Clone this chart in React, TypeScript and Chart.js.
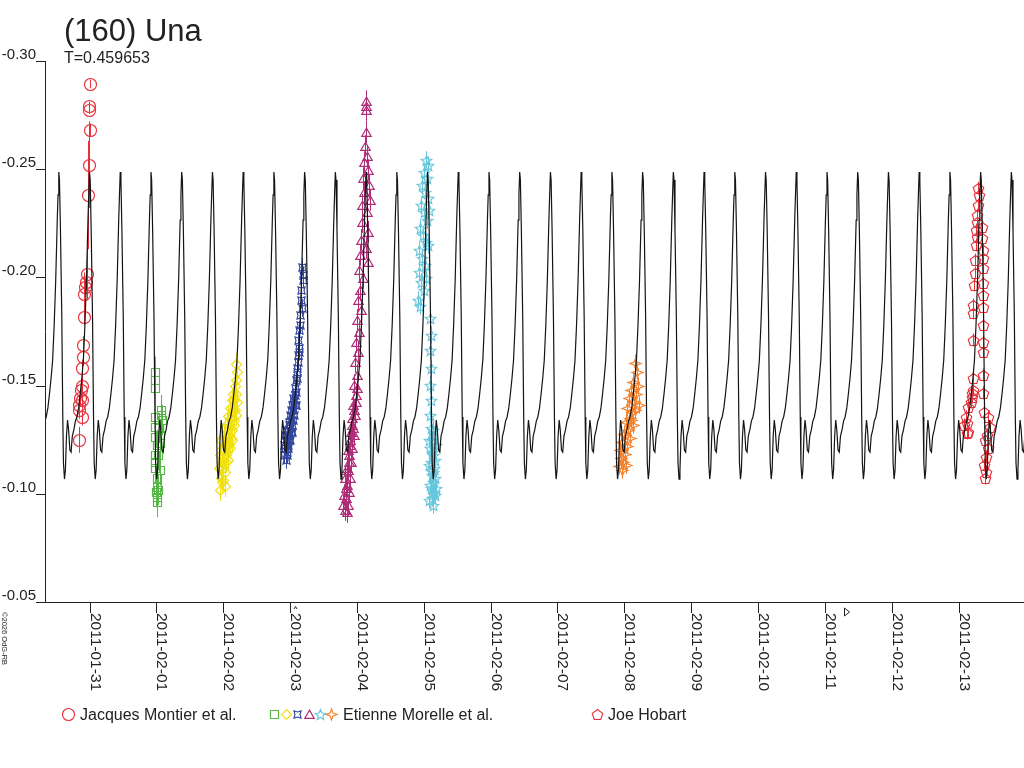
import { useEffect, useRef } from 'react'
import { Chart, registerables } from 'chart.js'

Chart.register(...registerables)

const FONT = '"Liberation Sans", Arial, sans-serif'
const INK = '#222222'

const title = '(160) Una'
const periodLabel = 'T=0.459653'
const copyright = '\u00a92026 OdG-RB'

// rotation period (days) and epoch of maximum, days after 2011-01-31 0h UT
const period = 0.459653
const epoch = 0

const dayMin = -0.666
const dayMax = 13.979
const magMin = -0.3
const magMax = -0.05

const tickDays = [0, 1, 2, 3, 4, 5, 6, 7, 8, 9, 10, 11, 12, 13]
const tickLabels = [
  '2011-01-31', '2011-02-01', '2011-02-02', '2011-02-03', '2011-02-04',
  '2011-02-05', '2011-02-06', '2011-02-07', '2011-02-08', '2011-02-09',
  '2011-02-10', '2011-02-11', '2011-02-12', '2011-02-13',
]
const magTicks = [-0.3, -0.25, -0.2, -0.15, -0.1, -0.05]
const magTickLabels = ['-0.30', '-0.25', '-0.20', '-0.15', '-0.10', '-0.05']
const eventDays = [3.08, 11.32]

// model lightcurve, one rotation
const modelPhase = [
  0.0, 0.022, 0.054, 0.098, 0.13, 0.152, 0.185, 0.215, 0.25, 0.285, 0.32, 0.36, 0.4,
  0.44, 0.49, 0.54, 0.59, 0.645, 0.7, 0.75, 0.8, 0.85, 0.9, 0.95, 0.975,
]
const modelMag = [
  -0.2487, -0.245, -0.2219, -0.1817, -0.1355, -0.1142, -0.1068, -0.111, -0.1267, -0.1341,
  -0.1295, -0.1202, -0.1193, -0.1267, -0.1295, -0.1336, -0.1355, -0.1397, -0.1466, -0.1535,
  -0.1618, -0.178, -0.1988, -0.2265, -0.2381,
]

// [day, mag, error]
const montier = [
  [0.012, -0.2894, 0.002], [-0.007, -0.2792, 0.002], [-0.005, -0.2774, 0.002],
  [0.012, -0.2681, 0.003], [-0.012, -0.2521, 0.02], [-0.018, -0.2381, 0.025],
  [-0.042, -0.2016, 0.012], [-0.052, -0.198, 0.004], [-0.067, -0.1957, 0.004],
  [-0.082, -0.1923, 0.01], [-0.082, -0.1818, 0.004], [-0.093, -0.1688, 0.004],
  [-0.102, -0.1631, 0.004], [-0.108, -0.158, 0.004], [-0.117, -0.1498, 0.004],
  [-0.132, -0.148, 0.004], [-0.142, -0.1443, 0.004], [-0.112, -0.1434, 0.004],
  [-0.153, -0.141, 0.004], [-0.157, -0.1387, 0.004], [-0.117, -0.1356, 0.004],
  [-0.153, -0.1249, 0.006],
]

// [day, mag]
const morelleA = [
  [0.98, -0.1564], [0.98, -0.1526], [0.98, -0.1489], [1.065, -0.1387], [1.08, -0.1341],
  [0.98, -0.1355], [0.98, -0.1309], [1.055, -0.1272], [0.98, -0.1262], [1.055, -0.1235],
  [0.98, -0.1179], [0.98, -0.1119], [1.055, -0.111], [1.005, -0.1073], [1.005, -0.1031],
  [1.025, -0.1018], [1.005, -0.0985], [1.005, -0.0962], [0.98, -0.1147], [1.04, -0.1304],
  [1.07, -0.1364], [1.01, -0.1226], [1.025, -0.1179], [0.995, -0.1008],
]
const morelleB = [
  [1.937, -0.1119], [1.952, -0.1179], [1.96, -0.1073], [1.967, -0.1249], [1.975, -0.1147],
  [1.982, -0.1055], [1.99, -0.1212], [1.997, -0.1119], [2.005, -0.1267], [2.012, -0.1175],
  [2.02, -0.1036], [2.027, -0.123], [2.034, -0.1304], [2.042, -0.1147], [2.049, -0.1221],
  [2.057, -0.1323], [2.064, -0.1193], [2.072, -0.1267], [2.079, -0.136], [2.087, -0.123],
  [2.094, -0.1313], [2.102, -0.1397], [2.109, -0.1258], [2.117, -0.135], [2.124, -0.1434],
  [2.132, -0.1295], [2.139, -0.1387], [2.147, -0.1461], [2.154, -0.1341], [2.162, -0.1434],
  [2.169, -0.1498], [2.177, -0.1387], [2.184, -0.1526], [2.192, -0.1461], [2.199, -0.1563],
  [2.206, -0.1424], [2.187, -0.16],
  [1.967, -0.111], [1.997, -0.1064], [2.027, -0.1101], [2.042, -0.1179], [2.072, -0.1156],
  [2.102, -0.1212], [2.132, -0.1249], [2.162, -0.1318], [2.192, -0.1364], [1.952, -0.1018],
]
const morelleC = [
  [2.925, -0.1212], [2.94, -0.1249], [2.947, -0.1193], [2.954, -0.1295], [2.962, -0.1226],
  [2.969, -0.1267], [2.977, -0.1332], [2.984, -0.1249], [2.992, -0.1304], [2.999, -0.1364],
  [3.007, -0.1286], [3.014, -0.1341], [3.022, -0.141], [3.029, -0.1318], [3.037, -0.1387],
  [3.044, -0.1443], [3.052, -0.1364], [3.059, -0.1434], [3.067, -0.1489], [3.074, -0.141],
  [3.082, -0.1526], [3.089, -0.147], [3.097, -0.1581], [3.104, -0.1535], [3.112, -0.1641],
  [3.119, -0.1609], [3.126, -0.1711], [3.134, -0.1757], [3.141, -0.1674], [3.149, -0.1826],
  [3.156, -0.178], [3.164, -0.1896], [3.171, -0.1942], [3.179, -0.1859], [3.186, -0.1988],
  [3.194, -0.2011], [3.174, -0.2048], [2.91, -0.1179], [2.94, -0.1156],
  [2.91, -0.1226], [2.925, -0.1272], [2.954, -0.1179], [2.969, -0.1212], [2.984, -0.1318],
  [2.999, -0.1249], [3.014, -0.1387], [3.029, -0.1286], [3.044, -0.1341], [3.074, -0.1457],
  [3.089, -0.141], [3.104, -0.1563], [3.134, -0.1656],
]
const morelleD = [
  [4.129, -0.2815], [4.136, -0.2792], [4.129, -0.2774], [4.136, -0.2672], [4.121, -0.2607],
  [4.151, -0.2561], [4.106, -0.2533], [4.166, -0.2496], [4.091, -0.2459], [4.181, -0.2427],
  [4.106, -0.2395], [4.196, -0.2358], [4.076, -0.2335], [4.151, -0.2302], [4.076, -0.2256],
  [4.166, -0.221], [4.061, -0.2173], [4.136, -0.2136], [4.046, -0.2104], [4.166, -0.2071],
  [4.031, -0.2034], [4.091, -0.1997], [4.046, -0.1942], [4.017, -0.1896], [4.061, -0.1849],
  [4.002, -0.1803], [4.031, -0.1748], [3.987, -0.1702], [4.017, -0.1656], [3.972, -0.1609],
  [4.002, -0.1549], [3.957, -0.1503], [3.987, -0.1457], [3.942, -0.141], [3.972, -0.1364],
  [3.927, -0.1318], [3.957, -0.1272], [3.897, -0.1249], [3.927, -0.1212], [3.882, -0.1179],
  [3.912, -0.1147], [3.867, -0.111], [3.897, -0.1073], [3.852, -0.1041], [3.882, -0.1008],
  [3.837, -0.0981], [3.867, -0.0948], [3.822, -0.0925], [3.852, -0.0916],
  [3.792, -0.0948], [3.807, -0.0994], [3.837, -0.1027], [3.822, -0.1073], [3.852, -0.1119],
  [3.882, -0.1147], [3.867, -0.1202], [3.897, -0.1226], [3.912, -0.1286], [3.942, -0.1304],
  [3.927, -0.135], [3.957, -0.1387], [3.987, -0.1424], [4.002, -0.1489],
]
const morelleE = [
  [5.034, -0.2543], [5.064, -0.2519], [5.004, -0.2487], [5.049, -0.2459], [4.974, -0.2427],
  [5.019, -0.2395], [5.064, -0.2367], [4.959, -0.2335], [5.004, -0.2302], [5.049, -0.2265],
  [4.944, -0.2228], [4.989, -0.2196], [5.034, -0.2164], [4.929, -0.2127], [4.974, -0.209],
  [5.019, -0.2057], [4.929, -0.2025], [4.959, -0.1979], [5.004, -0.1942], [4.914, -0.1896],
  [4.944, -0.1868], [5.034, -0.1997], [5.064, -0.215], [5.079, -0.2311], [5.094, -0.1812],
  [5.109, -0.1734], [5.094, -0.1665], [5.109, -0.1581], [5.094, -0.1503], [5.109, -0.1434],
  [5.094, -0.1364], [5.109, -0.1304], [5.123, -0.1249], [5.094, -0.1212], [5.138, -0.1179],
  [5.109, -0.1147], [5.153, -0.1119], [5.123, -0.1087], [5.138, -0.1055], [5.109, -0.1027],
  [5.153, -0.1008], [5.123, -0.0981], [5.138, -0.0948], [5.109, -0.111], [5.168, -0.1073],
  [5.079, -0.0971], [5.168, -0.0994], [5.094, -0.1041], [5.183, -0.1027], [5.138, -0.1101],
  [5.079, -0.1133], [5.168, -0.1156], [5.123, -0.1193], [5.183, -0.1226], [5.079, -0.1249],
  [5.138, -0.1295],
]
const morelleF = [
  [8.16, -0.1604], [8.19, -0.1563], [8.13, -0.1517], [8.205, -0.1498], [8.1, -0.148],
  [8.175, -0.1461], [8.07, -0.1443], [8.145, -0.1424], [8.22, -0.141], [8.04, -0.1397],
  [8.115, -0.1378], [8.085, -0.135], [8.026, -0.1332], [8.13, -0.1318], [8.055, -0.1295],
  [7.996, -0.1276], [8.085, -0.1258], [7.966, -0.1239], [8.04, -0.1221], [7.936, -0.1202],
  [8.011, -0.1184], [7.951, -0.1165], [7.981, -0.1147], [7.921, -0.1129], [7.966, -0.111],
  [8.026, -0.1133], [8.1, -0.1341], [8.16, -0.1387],
]
const hobart = [
  [13.296, -0.2412], [13.306, -0.2381], [13.287, -0.2335], [13.272, -0.2288], [13.276, -0.2256],
  [13.261, -0.2219], [13.272, -0.2188], [13.257, -0.215], [13.251, -0.208], [13.246, -0.202],
  [13.231, -0.1965], [13.221, -0.1872], [13.221, -0.1836], [13.221, -0.1711], [13.221, -0.1535],
  [13.212, -0.148], [13.197, -0.1447], [13.182, -0.1424],
  [13.347, -0.2234], [13.347, -0.2182], [13.361, -0.2127], [13.361, -0.209], [13.37, -0.2043],
  [13.37, -0.1974], [13.361, -0.1919], [13.37, -0.1865], [13.361, -0.178], [13.37, -0.1703],
  [13.37, -0.1657], [13.37, -0.1549], [13.37, -0.1466], [13.381, -0.1379], [13.445, -0.1356],
  [13.471, -0.131], [13.43, -0.1272], [13.396, -0.1249], [13.445, -0.1212], [13.411, -0.1171],
  [13.381, -0.1133], [13.411, -0.1102], [13.396, -0.1073],
  [13.146, -0.1403], [13.112, -0.1356], [13.122, -0.1327], [13.146, -0.1287], [13.122, -0.1281],
  [13.197, -0.1466], [13.085, -0.1318],
]

const RED = '#e8303a'
const GREEN = '#56b846'
const YELLOW = '#f0e010'
const BLUE = '#34489e'
const MAGENTA = '#b02c78'
const CYAN = '#66c6dc'
const ORANGE = '#f4822e'

function makeMarker(shape: string, color: string, r: number) {
  const size = Math.ceil(r) * 2 + 3
  const c = document.createElement('canvas')
  c.width = size
  c.height = size
  const g = c.getContext('2d')!
  const cx = size / 2
  const cy = size / 2
  g.strokeStyle = color
  g.lineWidth = 1.15
  g.beginPath()
  const poly = (n: number, radii: number[], start: number, dy = 0) => {
    for (let i = 0; i < n; i++) {
      const a = start + (i * 2 * Math.PI) / n
      const rr = radii[i % radii.length]
      const px = cx + Math.cos(a) * rr
      const py = cy + dy + Math.sin(a) * rr
      if (i === 0) g.moveTo(px, py)
      else g.lineTo(px, py)
    }
    g.closePath()
  }
  if (shape === 'circle') g.arc(cx, cy, r, 0, Math.PI * 2)
  else if (shape === 'square') {
    const h = Math.round(r * 0.8)
    g.rect(cx - h, cy - h, h * 2, h * 2)
  } else if (shape === 'diamond') poly(4, [r], -Math.PI / 2)
  else if (shape === 'triangle') poly(3, [r], -Math.PI / 2, r * 0.2)
  else if (shape === 'pentagon') poly(5, [r], -Math.PI / 2, r * 0.1)
  else if (shape === 'star5') poly(10, [r, r * 0.45], -Math.PI / 2, r * 0.1)
  else if (shape === 'star4') poly(8, [r, r * 0.36], -Math.PI / 2)
  else if (shape === 'astroid') poly(8, [r, r * 0.5], -Math.PI / 4)
  g.stroke()
  return c
}

function modelPoints() {
  const pts: { x: number; y: number }[] = []
  const k0 = Math.floor((dayMin - epoch) / period) - 1
  const k1 = Math.ceil((dayMax - epoch) / period) + 1
  for (let k = k0; k <= k1; k++) {
    for (let i = 0; i < modelPhase.length; i++) {
      pts.push({ x: epoch + (k + modelPhase[i]) * period, y: modelMag[i] })
    }
  }
  return pts
}

const toPts = (rows: number[][], err: number) =>
  rows.map((r) => ({ x: r[0], y: r[1], e: r.length > 2 ? r[2] : err }))

// error bars and symbols, drawn under the model line at the positions Chart.js computed
const observationLayer = {
  id: 'observationLayer',
  beforeDatasetsDraw(chart: any) {
    const { ctx, chartArea, scales } = chart
    ctx.save()
    ctx.beginPath()
    ctx.rect(chartArea.left, chartArea.top, chartArea.right - chartArea.left, chartArea.bottom - chartArea.top)
    ctx.clip()
    ctx.lineWidth = 1
    chart.data.datasets.forEach((ds: any) => {
      if (!ds.errColor) return
      ctx.strokeStyle = ds.errColor
      ctx.beginPath()
      for (const p of ds.data) {
        const px = Math.round(scales.x.getPixelForValue(p.x)) + 0.5
        ctx.moveTo(px, scales.y.getPixelForValue(p.y - p.e))
        ctx.lineTo(px, scales.y.getPixelForValue(p.y + p.e))
      }
      ctx.stroke()
    })
    chart.data.datasets.forEach((ds: any, i: number) => {
      if (!ds.marker) return
      const img = ds.marker as HTMLCanvasElement
      const half = Math.floor(img.width / 2)
      for (const el of chart.getDatasetMeta(i).data) {
        ctx.drawImage(img, Math.round(el.x) - half, Math.round(el.y) - half)
      }
    })
    ctx.restore()
  },
}

function decorations(markers: Record<string, HTMLCanvasElement>, etienne: HTMLCanvasElement[]) {
  return {
    id: 'decorations',
    afterDraw(chart: any) {
      const { ctx, chartArea, scales } = chart
      const { left, right, top, bottom } = chartArea
      ctx.save()
      ctx.strokeStyle = INK
      ctx.fillStyle = INK
      ctx.lineWidth = 1

      // axes
      ctx.beginPath()
      ctx.moveTo(left + 0.5, top)
      ctx.lineTo(left + 0.5, bottom)
      ctx.moveTo(36, bottom + 0.5)
      ctx.lineTo(right, bottom + 0.5)
      for (const m of magTicks) {
        const py = Math.round(scales.y.getPixelForValue(m)) + 0.5
        ctx.moveTo(36, py)
        ctx.lineTo(left, py)
      }
      for (const d of tickDays) {
        const px = Math.round(scales.x.getPixelForValue(d)) + 0.5
        ctx.moveTo(px, bottom)
        ctx.lineTo(px, bottom + 11)
      }
      ctx.stroke()

      ctx.font = `15px ${FONT}`
      ctx.textAlign = 'right'
      ctx.textBaseline = 'alphabetic'
      magTicks.forEach((m, i) => {
        const py = Math.round(scales.y.getPixelForValue(m))
        ctx.fillText(magTickLabels[i], 36, py - 2)
      })

      ctx.font = `15.5px ${FONT}`
      ctx.textAlign = 'left'
      tickDays.forEach((d, i) => {
        const px = Math.round(scales.x.getPixelForValue(d))
        ctx.save()
        ctx.translate(px + 1, bottom + 11)
        ctx.rotate(Math.PI / 2)
        ctx.fillText(tickLabels[i], 0, 0)
        ctx.restore()
      })

      // small event marks below the axis
      eventDays.forEach((d, i) => {
        const px = Math.round(scales.x.getPixelForValue(d)) + 0.5
        ctx.beginPath()
        if (i === 0) {
          ctx.moveTo(px - 1.5, bottom + 7)
          ctx.lineTo(px, bottom + 4.5)
          ctx.lineTo(px + 1.5, bottom + 7)
        } else {
          ctx.moveTo(px - 2, bottom + 6)
          ctx.lineTo(px + 3, bottom + 10)
          ctx.lineTo(px - 2, bottom + 14)
          ctx.closePath()
        }
        ctx.stroke()
      })

      // title
      ctx.font = `31px ${FONT}`
      ctx.fillText(title, 64, 41)
      ctx.font = `16px ${FONT}`
      ctx.fillText(periodLabel, 64, 63)

      ctx.save()
      ctx.font = `7.5px ${FONT}`
      ctx.translate(2, 612)
      ctx.rotate(Math.PI / 2)
      ctx.fillText(copyright, 0, 0)
      ctx.restore()

      // legend
      const ly = 714
      const put = (img: HTMLCanvasElement, cx: number) =>
        ctx.drawImage(img, Math.round(cx) - Math.floor(img.width / 2), ly - Math.floor(img.height / 2))
      ctx.font = `16px ${FONT}`
      put(markers.montier, 68)
      ctx.fillText('Jacques Montier et al.', 80, ly + 6)
      const ex = [274, 286, 297, 309, 319.5, 330.5]
      etienne.forEach((img, i) => put(img, ex[i]))
      ctx.fillText('Etienne Morelle et al.', 343, ly + 6)
      put(markers.hobart, 597)
      ctx.fillText('Joe Hobart', 608, ly + 6)
      ctx.restore()
    },
  }
}

export default function App() {
  const canvasRef = useRef<HTMLCanvasElement>(null)
  const chartRef = useRef<Chart | null>(null)

  useEffect(() => {
    const canvas = canvasRef.current
    if (!canvas) return

    const markers = {
      montier: makeMarker('circle', RED, 6),
      a: makeMarker('square', GREEN, 5),
      b: makeMarker('diamond', YELLOW, 5),
      c: makeMarker('astroid', BLUE, 5),
      d: makeMarker('triangle', MAGENTA, 5.5),
      e: makeMarker('star5', CYAN, 5.5),
      f: makeMarker('star4', ORANGE, 5.5),
      hobart: makeMarker('pentagon', RED, 5.5),
    }
    const legendMarks = [
      makeMarker('square', GREEN, 5),
      makeMarker('diamond', YELLOW, 5),
      makeMarker('astroid', BLUE, 5),
      makeMarker('triangle', MAGENTA, 5.5),
      makeMarker('star5', CYAN, 5.5),
      makeMarker('star4', ORANGE, 5.5),
    ]

    const session = (label: string, rows: number[][], err: number, color: string, img: HTMLCanvasElement) => ({
      label,
      data: toPts(rows, err),
      pointRadius: 0,
      borderColor: color,
      backgroundColor: 'transparent',
      errColor: color,
      marker: img,
      order: 1,
    })

    if (chartRef.current) chartRef.current.destroy()
    chartRef.current = new Chart(canvas, {
      type: 'scatter',
      data: {
        datasets: [
          {
            label: 'model',
            data: modelPoints(),
            showLine: true,
            borderColor: '#141414',
            borderWidth: 1.2,
            pointRadius: 0,
            tension: 0,
            order: 0,
          },
          session('Jacques Montier et al.', montier, 0.004, RED, markers.montier),
          session('Etienne Morelle et al.', morelleA, 0.007, GREEN, markers.a),
          session('Etienne Morelle et al.', morelleB, 0.005, YELLOW, markers.b),
          session('Etienne Morelle et al.', morelleC, 0.004, BLUE, markers.c),
          session('Etienne Morelle et al.', morelleD, 0.005, MAGENTA, markers.d),
          session('Etienne Morelle et al.', morelleE, 0.004, CYAN, markers.e),
          session('Etienne Morelle et al.', morelleF, 0.004, ORANGE, markers.f),
          session('Joe Hobart', hobart, 0.003, RED, markers.hobart),
        ] as any,
      },
      options: {
        animation: false,
        responsive: false,
        devicePixelRatio: 1,
        layout: { autoPadding: false, padding: { left: 45, right: 0, top: 61, bottom: 166 } },
        plugins: {
          legend: { display: false },
          tooltip: { enabled: false },
        },
        scales: {
          x: { type: 'linear', min: dayMin, max: dayMax, display: false },
          y: { type: 'linear', min: magMin, max: magMax, reverse: true, display: false },
        },
      },
      plugins: [observationLayer, decorations(markers, legendMarks)],
    })

    return () => {
      if (chartRef.current) {
        chartRef.current.destroy()
        chartRef.current = null
      }
    }
  }, [])

  return (
    <div style={{ position: 'fixed', left: 0, top: 0, width: 1024, height: 768, background: '#fff' }}>
      <canvas ref={canvasRef} width={1024} height={768} />
    </div>
  )
}
